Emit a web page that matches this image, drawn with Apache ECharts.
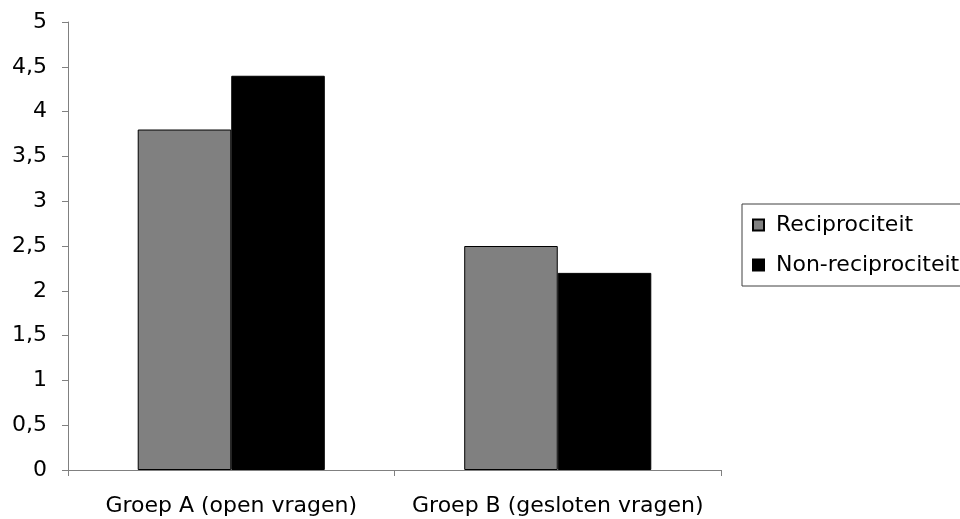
<!DOCTYPE html>
<html>
<head>
<meta charset="utf-8">
<script src="https://cdn.jsdelivr.net/npm/echarts@6/dist/echarts.min.js"></script>
<style>
  html, body { margin: 0; padding: 0; background: #fff; }
  #chart { width: 960px; height: 519px; }
</style>
</head>
<body>
<div id="chart"></div>
<script>
// Groups on the category axis
const groups = ['Groep A (open vragen)', 'Groep B (gesloten vragen)'];
// Scores per condition
const reciprociteit = [3.8, 2.5];
const nonReciprociteit = [4.4, 2.2];
const seriesNames = ['Reciprociteit', 'Non-reciprociteit'];

const FONT = 'DejaVu Sans';
const AXIS_GREY = '#808080';

const chart = echarts.init(document.getElementById('chart'), null, { renderer: 'canvas' });

chart.setOption({
  animation: false,
  backgroundColor: '#ffffff',
  grid: { left: 68, right: 239, top: 22, bottom: 49, containLabel: false },
  legend: {
    left: 742,
    top: 204,
    orient: 'vertical',
    data: seriesNames,
    icon: 'rect',
    itemWidth: 11,
    itemHeight: 11,
    itemGap: 18,
    padding: [10, 10, 10, 10],
    borderColor: '#404040',
    borderWidth: 1,
    textStyle: {
      fontFamily: FONT,
      fontSize: 22,
      lineHeight: 22,
      color: '#000',
      padding: [0, 0, 0, 7]
    }
  },
  xAxis: {
    type: 'category',
    data: groups,
    boundaryGap: true,
    axisLine: { lineStyle: { color: AXIS_GREY, width: 1 } },
    axisTick: { show: true, length: 6, inside: false, alignWithLabel: false, lineStyle: { color: AXIS_GREY } },
    axisLabel: {
      fontFamily: FONT,
      fontSize: 22,
      color: '#000',
      margin: 25,
      interval: 0,
      hideOverlap: false
    },
    splitLine: { show: false }
  },
  yAxis: {
    type: 'value',
    min: 0,
    max: 5,
    interval: 0.5,
    axisLine: { show: true, lineStyle: { color: AXIS_GREY, width: 1 } },
    axisTick: { show: true, length: 6, inside: false, lineStyle: { color: AXIS_GREY } },
    axisLabel: {
      fontFamily: FONT,
      fontSize: 22,
      color: '#000',
      margin: 21,
      formatter: v => String(v).replace('.', ',')
    },
    splitLine: { show: false }
  },
  series: [
    {
      name: seriesNames[0],
      type: 'bar',
      data: reciprociteit,
      barGap: '0%',
      barCategoryGap: '42.7%',
      itemStyle: { color: '#808080', borderColor: '#000', borderWidth: 1 }
    },
    {
      name: seriesNames[1],
      type: 'bar',
      data: nonReciprociteit,
      barGap: '0%',
      barCategoryGap: '42.7%',
      itemStyle: { color: '#000000', borderColor: '#000', borderWidth: 1 }
    }
  ]
});
</script>
</body>
</html>
